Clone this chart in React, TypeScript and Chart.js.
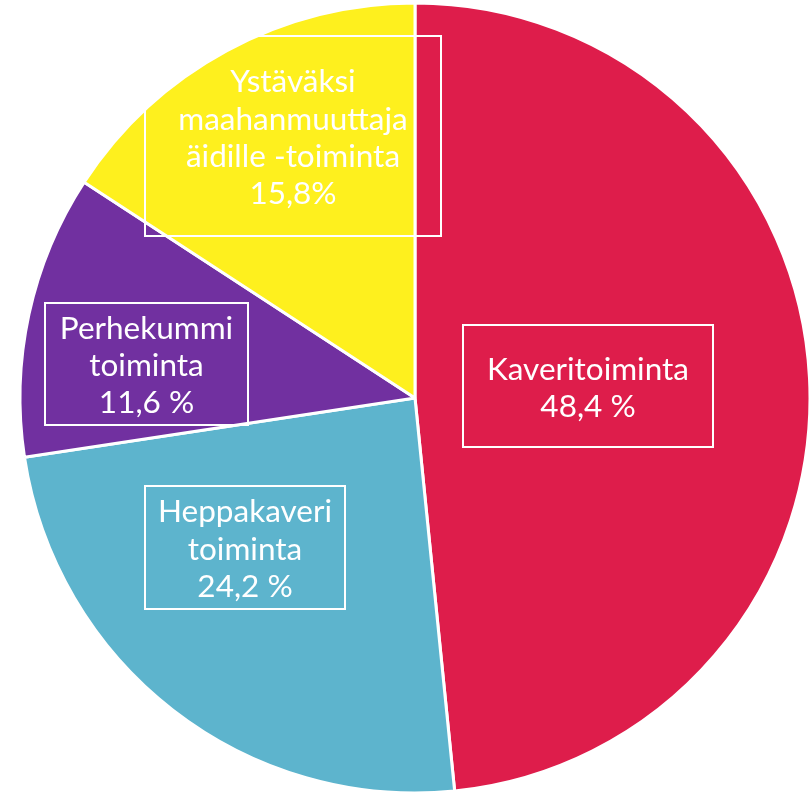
import React, { useEffect, useRef } from "react";
import { Chart, registerables } from "chart.js";

Chart.register(...registerables);

const categories = [
  "Kaveritoiminta",
  "Heppakaveri toiminta",
  "Perhekummi toiminta",
  "Ystäväksi maahanmuuttaja äidille -toiminta",
];
const values = [48.4, 24.2, 11.6, 15.8];
const labelLines = [
  ["Kaveritoiminta", "48,4 %"],
  ["Heppakaveri", "toiminta", "24,2 %"],
  ["Perhekummi", "toiminta", "11,6 %"],
  ["Ystäväksi", "maahanmuuttaja", "äidille -toiminta", "15,8%"],
];
const colors = ["#DE1D4B", "#5DB4CD", "#7130A0", "#FEF01E"];

// label boxes relative to pie centre: [x0, y0, x1, y1]
const boxes = [
  [48, -73, 298, 49],
  [-270, 88, -70, 211],
  [-370, -95, -167, 27],
  [-270, -362, 26, -162],
];

const labelPlugin = {
  id: "boxLabels",
  afterDatasetsDraw(chart: any) {
    const meta = chart.getDatasetMeta(0);
    const arc = meta.data[0];
    if (!arc) return;
    const cx = arc.x;
    const cy = arc.y;
    const ctx = chart.ctx;
    ctx.save();
    ctx.strokeStyle = "#ffffff";
    ctx.fillStyle = "#ffffff";
    ctx.lineWidth = 2;
    ctx.font = "31.5px Lato";
    ctx.textAlign = "center";
    ctx.textBaseline = "middle";
    const lh = 37.3;
    boxes.forEach((b, i) => {
      const x0 = cx + b[0];
      const y0 = cy + b[1];
      const x1 = cx + b[2];
      const y1 = cy + b[3];
      ctx.strokeRect(x0, y0, x1 - x0, y1 - y0);
      const lines = labelLines[i];
      const mx = (x0 + x1) / 2;
      const my = (y0 + y1) / 2;
      const start = my - ((lines.length - 1) * lh) / 2;
      lines.forEach((t, j) => ctx.fillText(t, mx, start + j * lh + 2));
    });
    ctx.restore();
  },
};

export default function App() {
  const ref = useRef<HTMLCanvasElement | null>(null);
  useEffect(() => {
    if (!ref.current) return;
    const chart = new Chart(ref.current, {
      type: "pie",
      data: {
        labels: categories,
        datasets: [
          {
            data: values,
            backgroundColor: colors,
            borderColor: "#ffffff",
            borderWidth: 3,
            clip: false as any,
          },
        ],
      },
      options: {
        animation: false,
        responsive: false,
        radius: 395,
        layout: { padding: { left: 20, top: 4, right: 0, bottom: 0 } },
        plugins: {
          legend: { display: false },
          tooltip: { enabled: false },
        },
      } as any,
      plugins: [labelPlugin],
    });
    return () => chart.destroy();
  }, []);
  return (
    <div style={{ position: "absolute", left: 0, top: 0, width: 810, height: 792, overflow: "hidden", background: "#fff" }}>
      <canvas ref={ref} width={810} height={792} style={{ width: 810, height: 792, display: "block" }} />
    </div>
  );
}
